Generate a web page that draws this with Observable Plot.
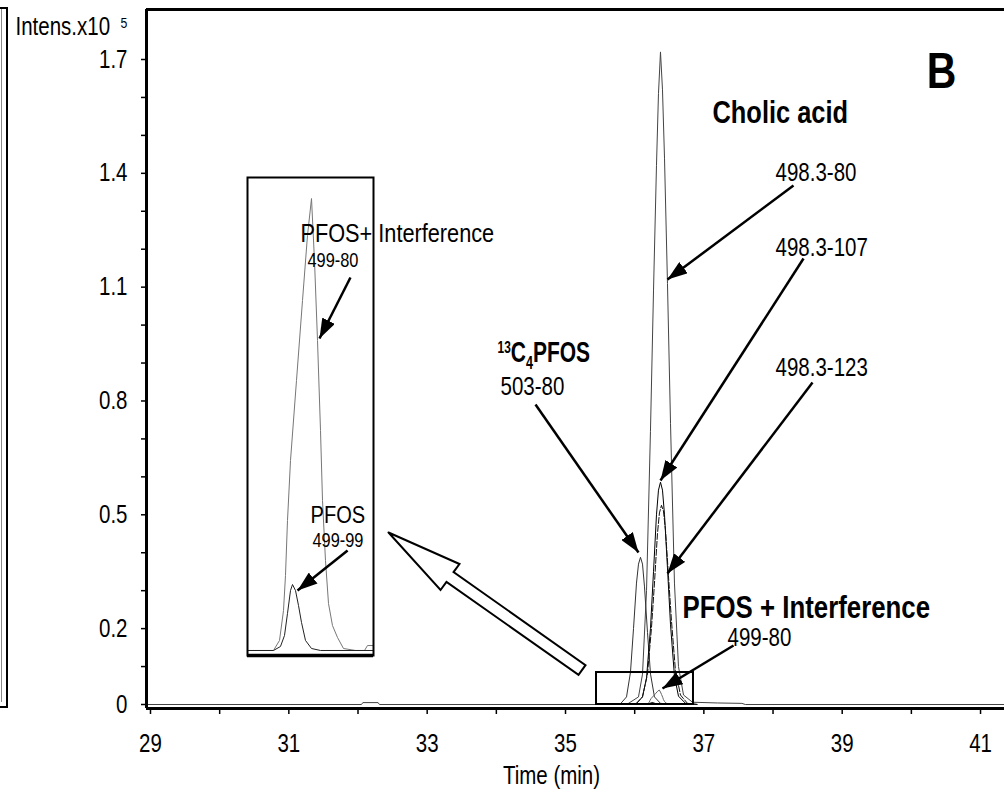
<!DOCTYPE html>
<html><head><meta charset="utf-8">
<script src="https://cdn.jsdelivr.net/npm/d3@7"></script>
<script src="https://cdn.jsdelivr.net/npm/@observablehq/plot@0.6"></script>
<style>
html,body{margin:0;padding:0;background:#fff;}
#wrap{position:relative;width:1004px;height:792px;overflow:hidden;background:#fff;}
#wrap svg{position:absolute;overflow:visible;background:transparent;}
.edge{position:absolute;left:-20px;top:7px;width:24px;height:697px;border:2px solid #000;}
.edge2{position:absolute;left:-20px;top:9px;width:21px;height:693px;border-right:1px solid #888;}
</style></head><body><div id="wrap"><div class="edge"></div><div class="edge2"></div></div>
<script>
const FONT = "'Liberation Sans',Arial,Helvetica,sans-serif";
const NARROW = 0.82;

// ---- chromatogram traces (time in min, intensity x10^5) ----
const cholicT = [28.95, 32.05, 32.07, 32.29, 32.31, 35.80, 35.910, 36.055, 36.113, 36.171, 36.228, 36.272, 36.315, 36.344, 36.373, 36.402, 36.431, 36.474, 36.518, 36.575, 36.633, 36.706, 36.836, 37.20, 37.55, 37.60, 41.34];
const cholicI = [0, 0, 0.005, 0.005, 0, 0, 0.003, 0.02, 0.08, 0.30, 0.72, 1.09, 1.42, 1.61, 1.72, 1.62, 1.44, 1.11, 0.74, 0.32, 0.10, 0.025, 0.006, 0.004, 0.003, 0, 0];
const c13T = [35.70, 35.795, 35.882, 35.939, 35.983, 36.026, 36.055, 36.084, 36.113, 36.142, 36.185, 36.229, 36.286, 36.373, 36.60];
const c13I = [0, 0.002, 0.02, 0.085, 0.20, 0.32, 0.37, 0.388, 0.37, 0.31, 0.19, 0.08, 0.02, 0.003, 0];
const m107T = [35.90, 36.026, 36.113, 36.171, 36.228, 36.272, 36.315, 36.344, 36.373, 36.402, 36.431, 36.474, 36.518, 36.575, 36.633, 36.735, 36.90];
const m107I = [0, 0.003, 0.02, 0.07, 0.20, 0.35, 0.50, 0.565, 0.586, 0.565, 0.50, 0.36, 0.21, 0.075, 0.022, 0.003, 0];
const m123T = [35.90, 36.026, 36.112, 36.185, 36.242, 36.286, 36.329, 36.358, 36.387, 36.416, 36.445, 36.488, 36.532, 36.589, 36.662, 36.763, 36.92];
const m123I = [0, 0.003, 0.02, 0.08, 0.20, 0.32, 0.45, 0.505, 0.525, 0.51, 0.46, 0.34, 0.22, 0.09, 0.025, 0.003, 0];
const p80T = [36.0, 36.1444, 36.1778, 36.2000, 36.2111, 36.2222, 36.2389, 36.2722, 36.3056, 36.3333, 36.3556, 36.3722, 36.3889, 36.4056, 36.4167, 36.4333, 36.4500, 36.4722, 36.5000, 36.5333, 36.6000, 36.6500, 36.6667, 36.7000];
const p80I = [0, 0, 0.00085, 0.00338, 0.00634, 0.01099, 0.01607, 0.02283, 0.02960, 0.03510, 0.03822, 0.03298, 0.02622, 0.01860, 0.01268, 0.00761, 0.00397, 0.00211, 0.00110, 0.00017, 0, 0, 0.00042, 0.00042];
const p99T = [36.0, 36.1444, 36.1833, 36.2056, 36.2222, 36.2389, 36.2500, 36.2667, 36.2833, 36.3000, 36.3222, 36.3556, 36.4056, 36.7];
const p99I = [0, 0, 0.00034, 0.00127, 0.00313, 0.00507, 0.00558, 0.00507, 0.00381, 0.00237, 0.00085, 0.00017, 0, 0];

// ---- axes ----
const xTicks = [29, 30, 31, 32, 33, 34, 35, 36, 37, 38, 39, 40, 41];
const yTicks = [0, 0.1, 0.2, 0.3, 0.4, 0.5, 0.6, 0.7, 0.8, 0.9, 1.0, 1.1, 1.2, 1.3, 1.4, 1.5, 1.6, 1.7];
const yTickLabels = ["0", "0.2", "0.5", "0.8", "1.1", "1.4", "1.7"];
const xDomain = [28.9422, 41.3464];
const yDomain = [-0.01054, 1.8318];

// ---- annotation texts ----
const boldLabels = ["Cholic acid", "13C4PFOS", "PFOS + Interference"];
const plainLabels = ["498.3-80", "498.3-107", "498.3-123", "503-80", "499-80"];
const insetLabels = ["PFOS+ Interference", "499-80", "PFOS", "499-99"];

const toRows = (T, I) => T.map((t, i) => ({t, v: I[i]}));

// annotation anchors in data units
const boldPos = [[37.125, 1.560, 31], [34.017, 0.9278, 30], [36.691, 0.2557, 31.5]];
const plainPos = [[38.036, 1.3996], [38.036, 1.2045], [38.036, 0.8882], [34.060, 0.838], [37.342, 0.1766]];
const arrowsMain = [
  [38.296, 1.368, 36.474, 1.120],
  [38.441, 1.1755, 36.373, 0.5904],
  [38.571, 0.8487, 36.474, 0.3453],
  [34.566, 0.7907, 36.055, 0.4006],
  [37.429, 0.1555, 36.402, 0.0422]
];
const hollowArrow = [[32.441, 0.4533], [33.467, 0.3703], [33.381, 0.3490], [35.289, 0.1038], [35.188, 0.0780], [33.279, 0.3231], [33.193, 0.3018], [32.441, 0.4533]];
const zoomBox = [{t1: 35.448, t2: 36.850, v1: 0, v2: 0.0843}];

const style = {fontFamily: FONT, fontSize: "25px", color: "#000", background: "transparent", overflow: "visible"};

const main = Plot.plot({
  width: 1004, height: 792,
  marginLeft: 146, marginRight: 0, marginTop: 9, marginBottom: 84,
  x: {domain: xDomain},
  y: {domain: yDomain},
  style,
  marks: [
    Plot.line(toRows(cholicT, cholicI), {x: "t", y: "v", stroke: "#444", strokeWidth: 1, curve: "linear"}),
    Plot.line(toRows(c13T, c13I), {x: "t", y: "v", stroke: "#333", strokeWidth: 1}),
    Plot.line(toRows(m107T, m107I), {x: "t", y: "v", stroke: "#000", strokeWidth: 1}),
    Plot.line(toRows(m123T, m123I), {x: "t", y: "v", stroke: "#111", strokeWidth: 1, strokeDasharray: "6,2"}),
    Plot.line(toRows(p80T, p80I), {x: "t", y: "v", stroke: "#666", strokeWidth: 1}),
    Plot.line(toRows(p99T, p99I), {x: "t", y: "v", stroke: "#222", strokeWidth: 1}),
    Plot.rect(zoomBox, {x1: "t1", x2: "t2", y1: "v1", y2: "v2", fill: "none", stroke: "#000", strokeWidth: 2}),
    Plot.line(hollowArrow, {x: d => d[0], y: d => d[1], fill: "white", stroke: "#000", strokeWidth: 2, strokeLinejoin: "miter", strokeMiterlimit: 10}),
    Plot.link(arrowsMain, {x1: d => d[0], y1: d => d[1], x2: d => d[2], y2: d => d[3], stroke: "#000", strokeWidth: 2.5}),
    Plot.text(boldLabels.map((s, i) => ({s, t: boldPos[i][0], v: boldPos[i][1], f: boldPos[i][2]})), {x: "t", y: "v", text: "s", fontSize: "f", fontWeight: "bold", textAnchor: "start", fill: "#000"}),
    Plot.text(["B"], {x: 40.436, y: 1.666, text: d => d, fontSize: 50, fontWeight: "bold", fill: "#000"}),
    Plot.text(plainLabels.map((s, i) => ({s, t: plainPos[i][0], v: plainPos[i][1]})), {x: "t", y: "v", text: "s", fontSize: 25, textAnchor: "start", fill: "#000"}),
    Plot.text(["Intens.x10"], {x: 27.048, y: 1.7844, text: d => d, fontSize: 25, textAnchor: "start", fill: "#000"}),
    Plot.text(["5"], {x: 28.566, y: 1.797, text: d => d, fontSize: 15, textAnchor: "start", fill: "#000"}),
    Plot.text(["Time (min)"], {x: 34.797, y: -0.1871, text: d => d, fontSize: 25, textAnchor: "middle", fill: "#000"}),
    Plot.axisY({ticks: yTicks, tickSize: 5, tickPadding: 14, strokeWidth: 1.5, label: null,
      tickFormat: d => { const s = d.toFixed(1) === "0.0" ? "0" : d.toFixed(1); return yTickLabels.includes(s) ? s : ""; }}),
    Plot.axisX({ticks: xTicks, tickSize: 6, tickPadding: 20, strokeWidth: 1.5, label: null,
      tickFormat: d => d % 2 ? String(d) : ""}),
    Plot.ruleY([yDomain[1]], {stroke: "#000", strokeWidth: 3}),
    Plot.ruleY([yDomain[0]], {stroke: "#000", strokeWidth: 3}),
    Plot.ruleX([xDomain[0]], {stroke: "#000", strokeWidth: 3})
  ]
});

// ---- inset (zoom of the boxed region) ----
const insetX = [36.0, 36.7];
const insetY = [-0.000423, 0.04];
const insetPos = [[36.294, 0.03526, 26.5], [36.333, 0.03298, 20], [36.350, 0.01142, 24.5], [36.361, 0.00930, 20]];
const insetArrows = [
  [36.572, 0.03154, 36.400, 0.02638],
  [36.556, 0.00846, 36.278, 0.00507]
];
const inset = Plot.plot({
  width: 126, height: 478, margin: 0,
  x: {domain: insetX, axis: null},
  y: {domain: insetY, axis: null},
  style,
  marks: [
    Plot.line(toRows(p80T, p80I), {x: "t", y: "v", stroke: "#777", strokeWidth: 1}),
    Plot.line(toRows(p99T, p99I), {x: "t", y: "v", stroke: "#222", strokeWidth: 1}),
    Plot.frame({stroke: "#000", strokeWidth: 2}),
    Plot.ruleY([insetY[0]], {stroke: "#000", strokeWidth: 3.5}),
    Plot.link(insetArrows, {x1: d => d[0], y1: d => d[1], x2: d => d[2], y2: d => d[3], stroke: "#000", strokeWidth: 2.5}),
    Plot.text(insetLabels.map((s, i) => ({s, t: insetPos[i][0], v: insetPos[i][1], f: insetPos[i][2]})), {x: "t", y: "v", text: "s", fontSize: "f", textAnchor: "start", fill: "#000"})
  ]
});

const ns = "http://www.w3.org/2000/svg";
function addArrowhead(svg, id) {
  const defs = document.createElementNS(ns, "defs");
  const m = document.createElementNS(ns, "marker");
  m.setAttribute("id", id);
  m.setAttribute("viewBox", "0 -5 10 10");
  m.setAttribute("refX", "10");
  m.setAttribute("refY", "0");
  m.setAttribute("markerUnits", "userSpaceOnUse");
  m.setAttribute("markerWidth", "20");
  m.setAttribute("markerHeight", "14");
  m.setAttribute("preserveAspectRatio", "none");
  m.setAttribute("orient", "auto");
  const p = document.createElementNS(ns, "path");
  p.setAttribute("d", "M0,-5L10,0L0,5Z");
  p.setAttribute("fill", "#000");
  m.appendChild(p);
  defs.appendChild(m);
  svg.insertBefore(defs, svg.firstChild);
  svg.querySelectorAll('g[aria-label="link"] path').forEach(el => el.setAttribute("marker-end", `url(#${id})`));
}
addArrowhead(main, "ah-main");
addArrowhead(inset, "ah-inset");

// 13C4PFOS with super/subscripts (more condensed, like the reference)
main.querySelectorAll("text").forEach(t => {
  if (t.textContent === "13C4PFOS") {
    t.textContent = "";
    t.dataset.narrow = "0.70";
    const parts = [["13", 17, -9], ["C", null, 9], ["4", 18, 7], ["PFOS", null, -7]];
    for (const [s, fs, dy] of parts) {
      const sp = document.createElementNS(ns, "tspan");
      sp.textContent = s;
      if (fs) sp.setAttribute("font-size", fs);
      sp.setAttribute("dy", dy);
      t.appendChild(sp);
    }
  }
});

// condensed (Arial Narrow-like) rendering of all texts
function narrow(svg) {
  svg.querySelectorAll("text").forEach(t => {
    const k = t.dataset.narrow || NARROW;
    const tr = t.getAttribute("transform");
    if (tr) {
      t.setAttribute("transform", `${tr} scale(${k},1)`);
    } else {
      const x = +(t.getAttribute("x") || 0), y = +(t.getAttribute("y") || 0);
      t.removeAttribute("x"); t.removeAttribute("y");
      t.setAttribute("transform", `translate(${x},${y}) scale(${k},1)`);
    }
  });
}
narrow(main);
narrow(inset);

const wrap = document.getElementById("wrap");
main.style.left = "0px"; main.style.top = "0px";
inset.style.left = "247px"; inset.style.top = "177px";
wrap.appendChild(main);
wrap.appendChild(inset);
</script>
</body></html>
